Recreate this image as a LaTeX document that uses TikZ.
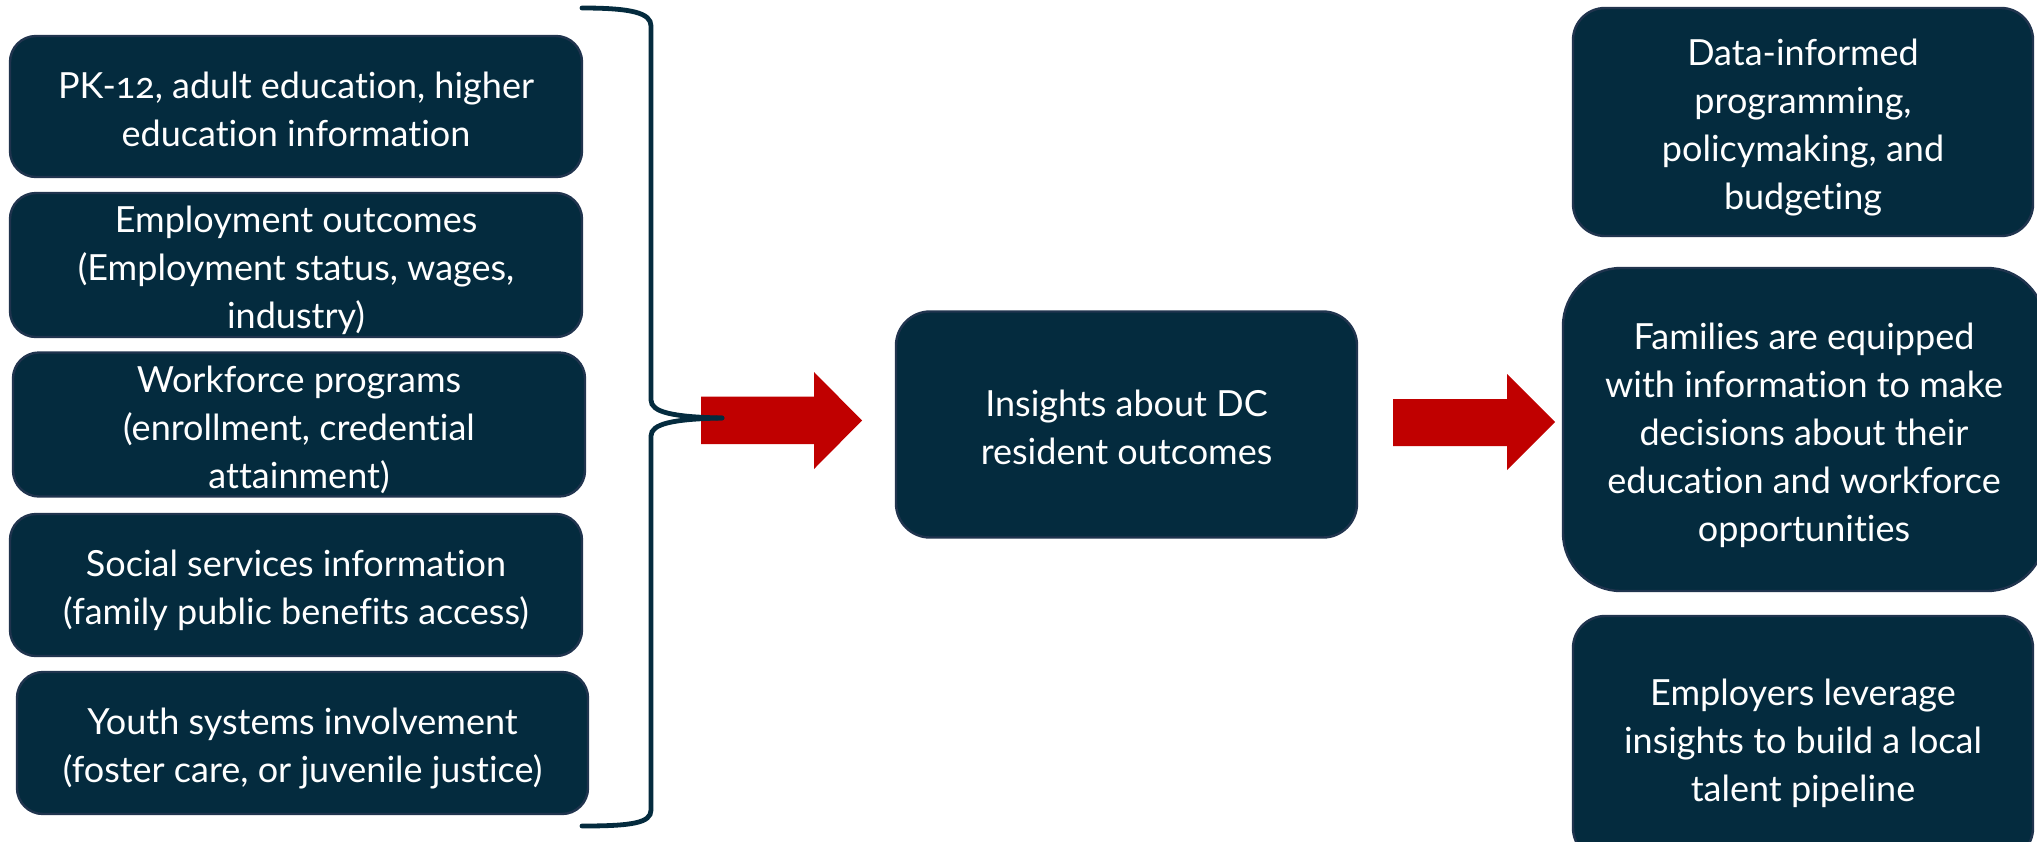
\documentclass[tikz,border=0pt]{standalone}
\usepackage{fontspec}
\setmainfont{Lato}[Ligatures=NoCommon, Numbers=OldStyle]

\definecolor{navy}{RGB}{4,43,62}
\definecolor{navyline}{RGB}{32,52,78}
\definecolor{arrowred}{RGB}{192,0,0}

% lines of a box, set a little below the middle
\newcommand{\boxlines}[1]{\raisebox{-3pt}[\height][\depth]{\begin{tabular}{@{}c@{}}#1\end{tabular}}}

\tikzset{
  infobox/.style={draw=navyline, line width=1.2pt, fill=navy, text=white,
    rounded corners=13pt, inner sep=0pt,
    font=\fontsize{18}{24}\selectfont},
  blockarrow/.style={fill=arrowred},
  bracket/.style={draw=navy, line width=2.4pt, line cap=round}
}

\begin{document}
\begin{tikzpicture}[x=0.5pt,y=-0.5pt]
% Page frame
\clip (0,0) rectangle (2037,841);
\fill[white] (0,0) rectangle (2037,841);

% Data sources on the left
\node[infobox, minimum width=286pt, minimum height=70.5pt] (edu) at (296,106.5)
  {\boxlines{PK-12, adult education, higher\\education information}};
\node[infobox, minimum width=286pt, minimum height=70pt] (emp) at (296,265)
  {\boxlines{Employment outcomes\\(Employment status, wages,\\industry)}};
\node[infobox, minimum width=286pt, minimum height=71.5pt] (wfp) at (299,424.5)
  {\boxlines{Workforce programs\\(enrollment, credential\\attainment)}};
\node[infobox, minimum width=286pt, minimum height=71pt] (soc) at (296,585)
  {\boxlines{Social services information\\(family public benefits access)}};
\node[infobox, minimum width=285.5pt, minimum height=71pt] (yth) at (302.5,743)
  {\boxlines{Youth systems involvement\\(foster care, or juvenile justice)}};

% Middle box
\node[infobox, rounded corners=17pt, minimum width=230.5pt, minimum height=113pt] (ins) at (1126.5,424.5)
  {\boxlines{Insights about DC\\resident outcomes}};

% Results on the right
\node[infobox, rounded corners=16pt, minimum width=230pt, minimum height=114pt] (data) at (1803,122)
  {\boxlines{Data-informed\\programming,\\policymaking, and\\budgeting}};
\node[infobox, rounded corners=29pt, minimum width=241pt, minimum height=161.5pt] (fam) at (1804,429.5)
  {\boxlines{Families are equipped\\with information to make\\decisions about their\\education and workforce\\opportunities}};
\node[infobox, rounded corners=16pt, minimum width=230pt, minimum height=122pt] (empl) at (1803,738)
  {\boxlines{Employers leverage\\insights to build a local\\talent pipeline}};

% Red block arrows
\coordinate (tipA) at (862,420.5);
\coordinate (tipB) at (1555,422);
\fill[blockarrow] (701,396.5) -- (814,396.5) -- (814,372) -- (tipA)
  -- (814,469) -- (814,444) -- (701,444) -- cycle;
\fill[blockarrow] (1393,399) -- (1507,399) -- (1507,374) -- (tipB)
  -- (1507,470) -- (1507,446) -- (1393,446) -- cycle;

% Brace joining the sources
\coordinate (brace) at (722,418);
\draw[bracket] (582,8) .. controls (632,8) and (651,13) .. (651,26) -- (651,400)
  .. controls (651,412) and (672,417) .. (brace);
\draw[bracket] (brace) .. controls (672,419) and (651,424) .. (651,436) -- (651,810)
  .. controls (651,823) and (632,826) .. (582,826);
\end{tikzpicture}
\end{document}
